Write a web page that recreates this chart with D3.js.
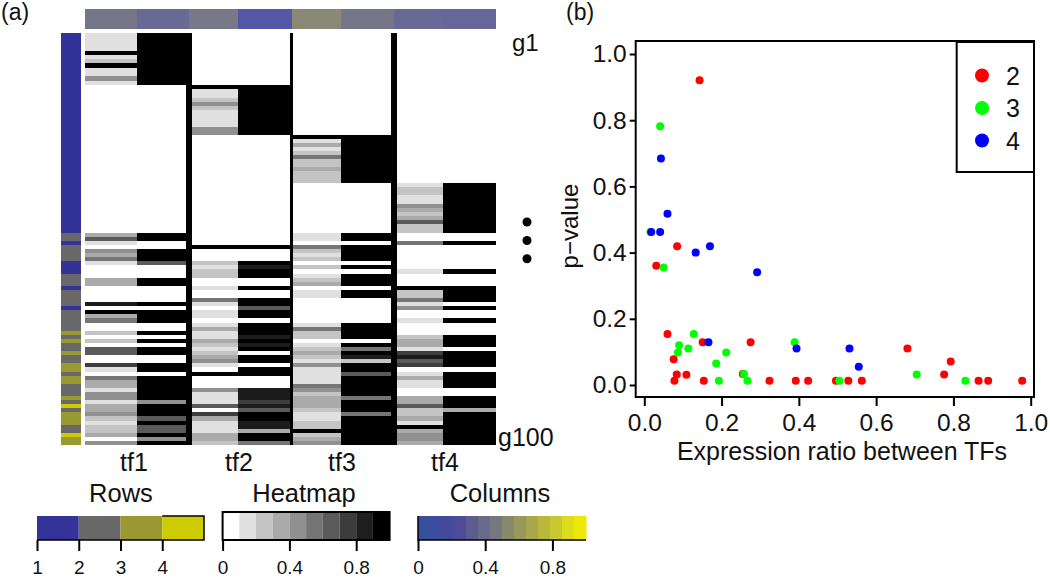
<!DOCTYPE html>
<html>
<head>
<meta charset="utf-8">
<script src="https://cdn.jsdelivr.net/npm/d3@7"></script>
<style>
  body { margin: 0; background: #fff; }
  text { font-family: "Liberation Sans", Arial, sans-serif; fill: #111; }
  .tick line, .domain { stroke: #000; stroke-width: 2; }
</style>
</head>
<body>
<div id="chart"></div>
<script>
// Heatmap values, in tenths (0 = white, 9 = black), one array per column, 100 rows each
const tf1a = [1,1,1,1,9,1,2,9,1,1,4,1, 0,0,0,0,0,0,0,0,0,0,0,0, 0,0,0,0,0,0,0,0,0,0,0,0, 0,0,0,0,0,0,0,0,0,0,0,0,
  3,6,1,0,4,3,5,1,0,0,0,3,3,0,0,0,0,8,0,9,3,5,0,0,2,0,2,0,6,6,0,0,7,1,0,5,3,3,1,4,4,1,3,3,4,2,1,2,2,3,0,4];
const tf1b = [9,9,9,9,9,9,9,9,9,9,9,9, 0,0,0,0,0,0,0,0,0,0,0,0, 0,0,0,0,0,0,0,0,0,0,0,0, 0,0,0,0,0,0,0,0,0,0,0,0,
  9,9,0,0,9,9,9,6,0,0,0,9,9,0,0,0,0,9,0,9,9,9,0,0,9,0,9,0,9,9,0,0,9,9,0,9,9,9,9,9,9,4,9,9,9,6,9,6,6,9,4,9];
const tf2a = [0,0,0,0,0,0,0,0,0,0,0,0, 9,1,1,2,4,2,1,1,1,1,4,4, 0,0,0,0,0,0,0,0,0,0,0,0, 0,0,0,0,0,0,0,0,0,0,0,0,
  0,0,0,9,0,0,0,2,1,2,2,0,0,1,0,0,5,1,0,1,1,0,1,3,1,1,3,2,1,2,3,4,1,0,9,0,0,0,4,1,1,1,6,0,7,3,1,1,1,3,3,2];
const tf2b = [0,0,0,0,0,0,0,0,0,0,0,0, 9,9,9,9,9,9,9,9,9,9,9,9, 0,0,0,0,0,0,0,0,0,0,0,0, 0,0,0,0,0,0,0,0,0,0,0,0,
  0,0,0,9,0,0,0,9,8,9,9,0,0,9,0,0,9,9,6,9,9,0,9,9,9,8,9,8,9,0,9,9,0,9,9,0,0,0,8,8,8,7,8,6,9,9,8,8,3,9,9,5];
const tf3a = [0,0,0,0,0,0,0,0,0,0,0,0, 0,0,0,0,0,0,0,0,0,0,0,0, 9,1,3,1,2,5,2,2,3,2,2,2, 0,0,0,0,0,0,0,0,0,0,0,0,
  1,1,0,5,2,1,2,0,2,0,1,2,3,0,1,1,0,0,0,0,0,0,1,5,2,2,0,1,2,3,2,1,4,1,1,1,1,5,4,2,3,3,3,2,1,1,2,2,9,2,3,4];
const tf3b = [0,0,0,0,0,0,0,0,0,0,0,0, 0,0,0,0,0,0,0,0,0,0,0,0, 9,9,9,9,9,9,9,9,9,9,9,9, 0,0,0,0,0,0,0,0,0,0,0,0,
  9,9,0,9,9,9,9,0,9,0,9,9,9,0,9,9,0,0,0,0,0,0,9,9,9,9,0,9,5,9,8,2,9,9,6,9,9,9,9,9,5,9,9,9,5,9,9,9,9,9,9,9];
const tf4a = [0,0,0,0,0,0,0,0,0,0,0,0, 0,0,0,0,0,0,0,0,0,0,0,0, 0,0,0,0,0,0,0,0,0,0,0,0, 1,2,2,1,1,4,3,2,3,6,2,2,
  0,0,5,0,0,0,0,0,0,1,0,0,0,9,2,2,5,1,4,0,0,1,0,0,0,2,3,3,1,7,8,6,7,0,1,3,1,1,0,0,3,3,6,2,2,3,1,9,3,4,4,3];
const tf4b = [0,0,0,0,0,0,0,0,0,0,0,0, 0,0,0,0,0,0,0,0,0,0,0,0, 0,0,0,0,0,0,0,0,0,0,0,0, 9,9,9,9,9,9,9,9,9,9,9,9,
  0,0,9,0,0,0,0,0,0,9,0,0,0,9,9,9,9,0,9,0,0,9,0,0,0,9,9,9,0,9,9,9,9,0,9,9,9,9,0,0,9,9,9,3,9,9,9,9,9,9,9,9];
const heatColumns = [tf1a, tf1b, tf2a, tf2b, tf3a, tf3b, tf4a, tf4b];

// Row groups down the side bar (1-4)
const rowGroups = [1,1,1,1,1,1,1,1,1,1,1,1, 1,1,1,1,1,1,1,1,1,1,1,1, 1,1,1,1,1,1,1,1,1,1,1,1, 1,1,1,1,1,1,1,1,1,1,1,1,
  2,2,1,2,2,2,2,1,1,1,2,2,2,1,2,2,2,2,1,2,2,2,2,2,3,2,3,2,2,3,2,2,3,3,2,3,3,2,2,2,3,2,4,2,3,3,3,2,2,4,3,3];
// Column values along the top bar
const columnValues = [0.43, 0.33, 0.44, 0.2, 0.54, 0.43, 0.33, 0.31];
const tfNames = ['tf1', 'tf2', 'tf3', 'tf4'];

// Scatter points [ratio, p-value] per cluster count
const red2 = [[0.031,0.36],[0.06,0.154],[0.151,0.129],[0.275,0.129],[0.076,0.078],[0.084,0.032],[0.109,0.031],
  [0.078,0.013],[0.154,0.013],[0.255,0.033],[0.324,0.013],[0.392,0.013],[0.424,0.013],[0.496,0.013],[0.528,0.013],
  [0.563,0.013],[0.681,0.11],[0.793,0.071],[0.776,0.032],[0.865,0.013],[0.89,0.013],[0.978,0.013],[0.143,0.921],[0.085,0.419]];
const green3 = [[0.05,0.355],[0.128,0.154],[0.09,0.12],[0.114,0.11],[0.087,0.098],[0.212,0.098],[0.186,0.065],
  [0.193,0.013],[0.258,0.033],[0.267,0.013],[0.389,0.129],[0.505,0.013],[0.705,0.032],[0.831,0.013],[0.041,0.782],[0.016,0.462]];
const blue4 = [[0.166,0.129],[0.394,0.11],[0.531,0.11],[0.555,0.055],[0.292,0.341],[0.043,0.684],[0.06,0.517],
  [0.018,0.462],[0.041,0.462],[0.133,0.40],[0.17,0.419]];
const legendLabels = ['2', '3', '4'];

// Legend palettes and ticks
const heatPalette = ['#ffffff','#e0e0e0','#c4c4c4','#aaaaaa','#909090','#747474','#5a5a5a','#3c3c3c','#1e1e1e','#000000'];
const groupPalette = ['#333399','#686868','#999933','#cccc00'];
const columnPalette = ['#36509f','#3c4c9e','#444a9c','#4e4c98','#5c5c90','#6a6a8c','#777780','#88886c','#98985a','#a8a84a','#b8b83c','#c8c830','#dcdc1c','#ece80a'];
const scatterColors = ['#ff0000', '#00ff00', '#0000ff'];
const unitTicks = [0, 0.4, 0.8];
const groupTicks = [1, 2, 3, 4];
const axisTicks = [0, 0.2, 0.4, 0.6, 0.8, 1];

const svg = d3.select('#chart').append('svg')
  .attr('width', 1050)
  .attr('height', 580);

// Slight softening, the reference is an upscaled bitmap
svg.append('defs').append('filter')
  .attr('id', 'soft')
  .append('feGaussianBlur')
  .attr('stdDeviation', 0.5);

// ---- panel (a): heatmap ----
const colEdges = [85, 136.7, 188.8, 238, 291.6, 341.3, 393.8, 442.7, 496];
const colX = d3.scaleLinear().domain(d3.range(9)).range(colEdges);
const rowY = d3.scaleLinear().domain([0, 12, 24, 36, 48, 100]).range([33.3, 85, 135, 183, 232.7, 445]);
const heatColor = d3.scaleQuantize().domain([0, 10]).range(heatPalette);
const barColor = d3.scaleLinear().domain([0, 0.5, 1]).range(['#3c3cc0', '#808080', '#ecec00']);

const heat = svg.append('g')
  .attr('shape-rendering', 'crispEdges')
  .attr('filter', 'url(#soft)');

heatColumns.forEach((col, c) => {
  heat.append('g').selectAll('rect')
    .data(col)
    .join('rect')
    .attr('x', colX(c))
    .attr('y', (d, i) => rowY(i))
    .attr('width', colX(c + 1) - colX(c))
    .attr('height', (d, i) => rowY(i + 1) - rowY(i))
    .attr('fill', d => heatColor(d + 0.5));
});

// Black separators between the TF blocks
[[186, 191.7], [289.7, 293.3], [391, 396.7]].forEach(s => {
  heat.append('rect')
    .attr('x', s[0]).attr('y', rowY(0))
    .attr('width', s[1] - s[0]).attr('height', rowY(100) - rowY(0))
    .attr('fill', '#000');
});

// Top column bar
heat.append('g').selectAll('rect')
  .data(columnValues)
  .join('rect')
  .attr('x', (d, i) => colX(i))
  .attr('y', 9)
  .attr('width', (d, i) => colX(i + 1) - colX(i))
  .attr('height', 20)
  .attr('fill', d => barColor(d));

// Side row bar
heat.append('g').selectAll('rect')
  .data(rowGroups)
  .join('rect')
  .attr('x', 61)
  .attr('y', (d, i) => rowY(i))
  .attr('width', 20)
  .attr('height', (d, i) => rowY(i + 1) - rowY(i))
  .attr('fill', d => groupPalette[d - 1]);

// Gene labels and the three dots
svg.append('text').attr('x', 512).attr('y', 51).attr('font-size', 24).text('g1');
svg.append('text').attr('x', 498).attr('y', 446).attr('font-size', 25).text('g100');
svg.selectAll('.gap-dot')
  .data([222, 240.5, 258.7])
  .join('circle')
  .attr('class', 'gap-dot')
  .attr('cx', 527)
  .attr('cy', d => d)
  .attr('r', 4.5)
  .attr('fill', '#000');

tfNames.forEach((name, i) => {
  svg.append('text')
    .attr('x', [134, 239, 342, 445][i])
    .attr('y', 471)
    .attr('text-anchor', 'middle')
    .attr('font-size', 25)
    .text(name);
});

svg.append('text').attr('x', 1).attr('y', 20).attr('font-size', 23).text('(a)');
svg.append('text').attr('x', 566).attr('y', 20).attr('font-size', 23).text('(b)');

// ---- colour keys ----
const keyTop = 516, keyBottom = 540;

function drawKeyAxis(scale, ticks, format) {
  const axis = d3.axisBottom(scale)
    .tickValues(ticks)
    .tickFormat(format)
    .tickSize(11)
    .tickPadding(10);
  const g = svg.append('g')
    .attr('transform', `translate(0,${keyBottom})`)
    .call(axis);
  g.select('.domain').remove();
  g.selectAll('text').attr('font-size', 19).attr('fill', '#111');
}

function keyTitle(label, x) {
  svg.append('text')
    .attr('x', x).attr('y', 502)
    .attr('text-anchor', 'middle')
    .attr('font-size', 25.5)
    .text(label);
}

// Rows key
const groupKeyX = d3.scaleLinear().domain([1, 5]).range([37, 204]);
svg.append('g').selectAll('rect')
  .data(groupPalette)
  .join('rect')
  .attr('x', (d, i) => groupKeyX(i + 1))
  .attr('y', keyTop)
  .attr('width', groupKeyX(2) - groupKeyX(1))
  .attr('height', keyBottom - keyTop)
  .attr('fill', d => d);
svg.append('path')
  .attr('d', d3.line()([[groupKeyX(4), keyTop], [groupKeyX(5), keyTop], [groupKeyX(5), keyBottom], [groupKeyX(1), keyBottom]]))
  .attr('fill', 'none').attr('stroke', '#000').attr('stroke-width', 1.5);
drawKeyAxis(groupKeyX, groupTicks, d3.format('d'));
keyTitle('Rows', 121);

// Heatmap key
const heatKeyX = d3.scaleLinear().domain([0, 1]).range([222.6, 389.6]);
svg.append('g').selectAll('rect')
  .data(heatPalette)
  .join('rect')
  .attr('x', (d, i) => heatKeyX(i / 10))
  .attr('y', 512)
  .attr('width', heatKeyX(0.1) - heatKeyX(0))
  .attr('height', keyBottom - 512)
  .attr('fill', d => d);
svg.append('rect')
  .attr('x', heatKeyX(0)).attr('y', 512)
  .attr('width', heatKeyX(1) - heatKeyX(0)).attr('height', keyBottom - 512)
  .attr('fill', 'none').attr('stroke', '#000').attr('stroke-width', 2);
drawKeyAxis(heatKeyX, unitTicks, d => d === 0 ? '0' : d3.format('.1f')(d));
keyTitle('Heatmap', 304);

// Columns key
const columnKeyX = d3.scaleLinear().domain([0, 1]).range([418, 586]);
svg.append('g').selectAll('rect')
  .data(columnPalette)
  .join('rect')
  .attr('x', (d, i) => columnKeyX(i / columnPalette.length))
  .attr('y', keyTop)
  .attr('width', columnKeyX(1 / columnPalette.length) - columnKeyX(0) + 0.5)
  .attr('height', keyBottom - keyTop)
  .attr('fill', d => d);
svg.append('path')
  .attr('d', d3.line()([[columnKeyX(0), keyTop], [columnKeyX(0), keyBottom], [columnKeyX(1), keyBottom]]))
  .attr('fill', 'none').attr('stroke', '#000').attr('stroke-width', 1.5);
drawKeyAxis(columnKeyX, unitTicks, d => d === 0 ? '0' : d3.format('.1f')(d));
keyTitle('Columns', 500);

// ---- panel (b): scatter ----
const x = d3.scaleLinear().domain([0, 1]).range([644.3, 1030.7]);
const y = d3.scaleLinear().domain([0, 1]).range([385, 54]);

svg.append('rect')
  .attr('x', 635.7).attr('y', 41)
  .attr('width', 398.3).attr('height', 356)
  .attr('fill', 'none').attr('stroke', '#000').attr('stroke-width', 2);

const xAxis = svg.append('g')
  .attr('transform', 'translate(0,397)')
  .call(d3.axisBottom(x).tickValues(axisTicks).tickFormat(d3.format('.1f')).tickSize(9).tickPadding(8));
xAxis.select('.domain').remove();
xAxis.selectAll('text').attr('font-size', 24.5).attr('fill', '#111');

const yAxis = svg.append('g')
  .attr('transform', 'translate(635.7,0)')
  .call(d3.axisLeft(y).tickValues(axisTicks).tickFormat(d3.format('.1f')).tickSize(6).tickPadding(3));
yAxis.select('.domain').remove();
yAxis.selectAll('text').attr('font-size', 24.5).attr('fill', '#111');

svg.append('text')
  .attr('x', 842).attr('y', 460)
  .attr('text-anchor', 'middle')
  .attr('font-size', 25)
  .text('Expression ratio between TFs');

svg.append('text')
  .attr('transform', 'translate(578,226) rotate(-90)')
  .attr('text-anchor', 'middle')
  .attr('font-size', 24)
  .text('p\u2212value');

[red2, green3, blue4].forEach((points, i) => {
  svg.append('g').selectAll('circle')
    .data(points)
    .join('circle')
    .attr('cx', d => x(d[0]))
    .attr('cy', d => y(d[1]))
    .attr('r', 4)
    .attr('fill', scatterColors[i]);
});

// Legend box, top right
svg.append('rect')
  .attr('x', 956.7).attr('y', 42)
  .attr('width', 77.3).attr('height', 130)
  .attr('fill', '#fff').attr('stroke', '#000').attr('stroke-width', 2);

const legendY = d3.scalePoint().domain(legendLabels).range([75.5, 140.5]);
legendLabels.forEach((label, i) => {
  svg.append('circle')
    .attr('cx', 982).attr('cy', legendY(label))
    .attr('r', 7).attr('fill', scatterColors[i]);
  svg.append('text')
    .attr('x', 1006).attr('y', legendY(label) + 9)
    .attr('font-size', 25)
    .text(label);
});
</script>
</body>
</html>
